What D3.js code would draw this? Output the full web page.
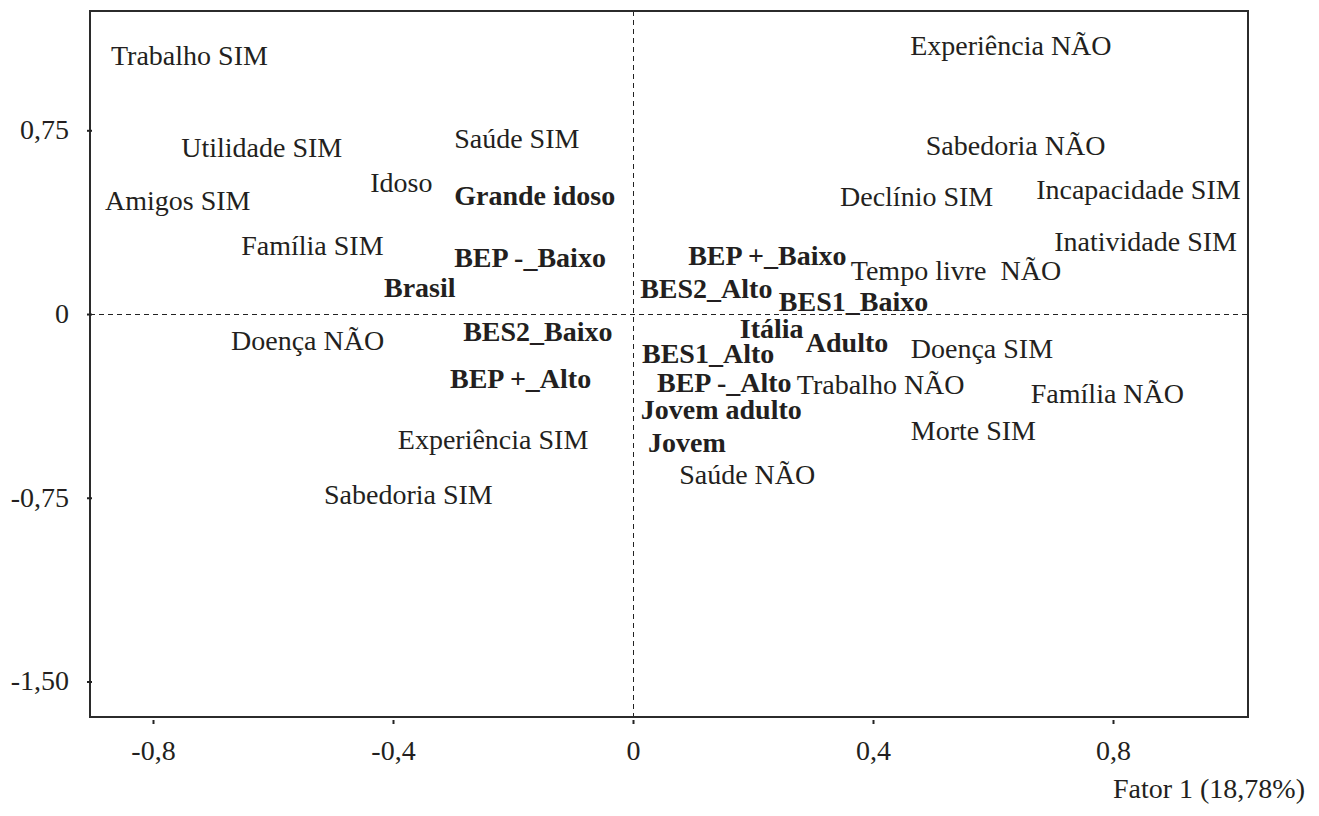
<!DOCTYPE html>
<html lang="pt">
<head>
  <meta charset="UTF-8">
  <title>Fator 1 x Fator 2</title>
  <script src="https://d3js.org/d3.v7.min.js"></script>
  <style>
    body { margin: 0; background: #fff; }
    svg text { font-family: "Liberation Serif", "Times New Roman", serif; fill: #231f20; }
    .lbl { font-size: 28px; }
    .lbl.bold { font-weight: bold; }
    .tick text { font-size: 28px; }
  </style>
</head>
<body>
  <div id="chart"></div>
  <script>
    // point labels (Fator 1, Fator 2)
    const labels = ["Trabalho SIM", "Experiência NÃO", "Utilidade SIM", "Saúde SIM", "Sabedoria NÃO",
      "Idoso", "Grande idoso", "Amigos SIM", "Declínio SIM", "Incapacidade SIM",
      "Família SIM", "BEP -_Baixo", "Inatividade SIM", "BEP +_Baixo", "Tempo livre  NÃO",
      "Brasil", "BES2_Alto", "BES1_Baixo", "Doença NÃO", "BES2_Baixo",
      "Itália", "Adulto", "BES1_Alto", "Doença SIM", "BEP +_Alto",
      "BEP -_Alto", "Trabalho NÃO", "Família NÃO", "Jovem adulto", "Experiência SIM",
      "Morte SIM", "Jovem", "Saúde NÃO", "Sabedoria SIM"];
    const fator1 = [-0.870, 0.462, -0.753, -0.298, 0.488,
      -0.438, -0.298, -0.880, 0.345, 0.672,
      -0.653, -0.298, 0.702, 0.092, 0.363,
      -0.415, 0.012, 0.243, -0.670, -0.283,
      0.178, 0.288, 0.015, 0.463, -0.305,
      0.040, 0.273, 0.663, 0.013, -0.392,
      0.463, 0.025, 0.077, -0.515];
    const fator2 = [1.053, 1.094, 0.678, 0.714, 0.686,
      0.535, 0.482, 0.461, 0.478, 0.506,
      0.278, 0.229, 0.294, 0.237, 0.176,
      0.106, 0.102, 0.049, -0.110, -0.073,
      -0.061, -0.118, -0.163, -0.143, -0.265,
      -0.282, -0.290, -0.327, -0.392, -0.514,
      -0.478, -0.527, -0.657, -0.739];
    // supplementary (bold) categories
    const boldLabels = ["Grande idoso", "BEP -_Baixo", "BEP +_Baixo", "Brasil", "BES2_Alto",
      "BES1_Baixo", "BES2_Baixo", "Itália", "Adulto", "BES1_Alto", "BEP +_Alto",
      "BEP -_Alto", "Jovem adulto", "Jovem"];

    const xTicks = [-0.8, -0.4, 0, 0.4, 0.8];
    const xTickLabels = ["-0,8", "-0,4", "0", "0,4", "0,8"];
    const yTicks = [0.75, 0, -0.75, -1.5];
    const yTickLabels = ["0,75", "0", "-0,75", "-1,50"];
    const xTitle = "Fator 1 (18,78%)";

    const W = 1319, H = 816;
    const margin = { top: 11, right: 71, bottom: 99, left: 90 };
    const width = W - margin.left - margin.right,
          height = H - margin.top - margin.bottom;

    const svg = d3.select("#chart").append("svg")
      .attr("width", W).attr("height", H);
    const g = svg.append("g")
      .attr("transform", `translate(${margin.left},${margin.top})`);

    const x = d3.scaleLinear().domain([-0.905, 1.025]).range([0, width]);
    const y = d3.scaleLinear().domain([-1.645, 1.237]).range([height, 0]);

    // reference lines at zero (half-pixel offset keeps them sharp)
    const x0 = Math.round(x(0)) + 0.5, y0 = Math.round(y(0)) + 0.5;
    g.append("line")
      .attr("x1", x0).attr("x2", x0).attr("y1", 0).attr("y2", height)
      .attr("stroke", "#222").attr("stroke-width", 1).attr("stroke-dasharray", "5,4");
    g.append("line")
      .attr("x1", 0).attr("x2", width).attr("y1", y0).attr("y2", y0)
      .attr("stroke", "#222").attr("stroke-width", 1).attr("stroke-dasharray", "5,4");

    // frame
    g.append("rect")
      .attr("width", width).attr("height", height)
      .attr("fill", "none").attr("stroke", "#2b2b2b").attr("stroke-width", 2);

    // x axis
    const xAxis = g.append("g")
      .attr("transform", `translate(0,${height})`)
      .call(d3.axisBottom(x).tickValues(xTicks)
        .tickFormat((d, i) => xTickLabels[i]).tickSize(7).tickPadding(0));
    xAxis.select(".domain").remove();
    xAxis.selectAll(".tick line").attr("y1", 3).attr("stroke", "#222").attr("stroke-width", 2);
    xAxis.selectAll(".tick text").attr("y", 43).attr("dy", 0);

    // y axis
    const yAxis = g.append("g")
      .call(d3.axisLeft(y).tickValues(yTicks)
        .tickFormat((d, i) => yTickLabels[i]).tickSize(3).tickPadding(18));
    yAxis.select(".domain").remove();
    yAxis.selectAll(".tick line").attr("x2", -3).attr("x1", 2)
      .attr("stroke", "#222").attr("stroke-width", 2);
    yAxis.selectAll(".tick text").attr("dy", "0.3em");

    // point labels
    const data = labels.map((name, i) => ({ name, f1: fator1[i], f2: fator2[i] }));
    g.selectAll(".lbl")
      .data(data)
      .enter()
      .append("text")
      .attr("class", d => boldLabels.includes(d.name) ? "lbl bold" : "lbl")
      .attr("x", d => x(d.f1))
      .attr("y", d => y(d.f2))
      .attr("dy", "0.33em")
      .style("white-space", "pre")
      .text(d => d.name);

    // axis title
    svg.append("text")
      .attr("x", 1305).attr("y", 798)
      .attr("text-anchor", "end")
      .style("font-size", "28px")
      .text(xTitle);
  </script>
</body>
</html>
